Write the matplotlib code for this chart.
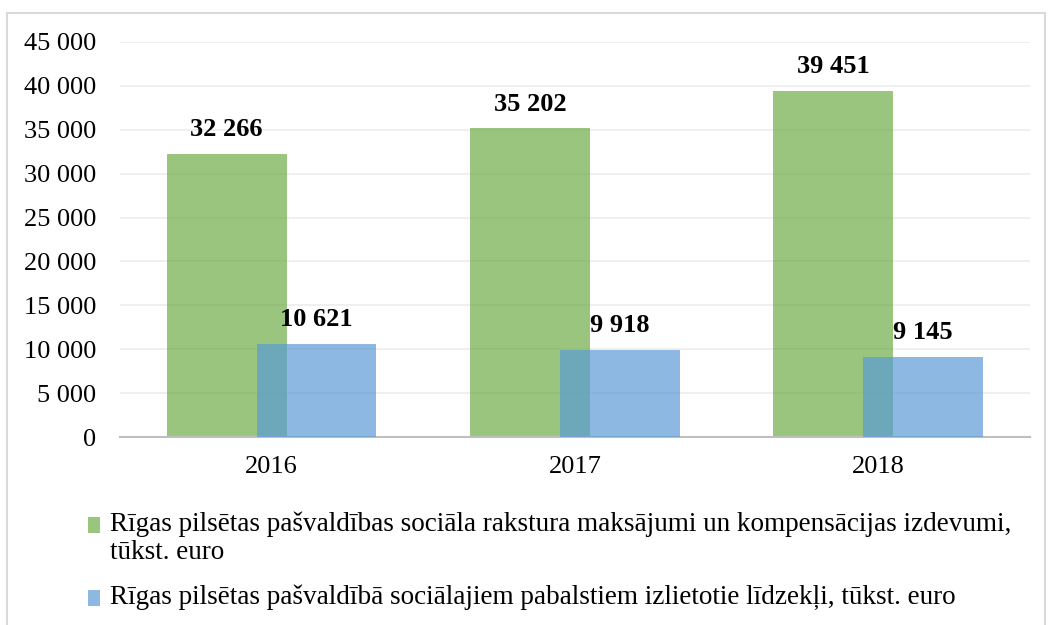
import matplotlib.pyplot as plt
from matplotlib.patches import Rectangle
import numpy as np

plt.rcParams['font.family'] = ['Liberation Serif', 'DejaVu Serif']

years = ['2016', '2017', '2018']
kompensacijas = [32266, 35202, 39451]
pabalsti = [10621, 9918, 9145]
labels = ['Rīgas pilsētas pašvaldības sociāla rakstura maksājumi un kompensācijas izdevumi,\ntūkst. euro',
          'Rīgas pilsētas pašvaldībā sociālajiem pabalstiem izlietotie līdzekļi, tūkst. euro']
colors = ['#70AD47', '#5B9BD5']


def fmt(v):
    return f'{v:,.0f}'.replace(',', ' ')


fig = plt.figure(figsize=(10.52, 6.25), dpi=100)
ax = fig.add_axes([0.114, 0.3008, 0.865, 0.632])

x = np.arange(len(years))
w = 0.395
off = 0.148
b1 = ax.bar(x - off, kompensacijas, w, color=colors[0], alpha=0.7, zorder=2)
b2 = ax.bar(x + off, pabalsti, w, color=colors[1], alpha=0.7, zorder=3)

for bars, vals in ((b1, kompensacijas), (b2, pabalsti)):
    for b, v in zip(bars, vals):
        ax.annotate(fmt(v), (b.get_x() + b.get_width() / 2, v), xytext=(0, 9),
                    textcoords='offset points', ha='center', va='bottom',
                    fontsize=19, fontweight='bold', zorder=4)

ax.set_xlim(-0.5, 2.5)
ax.set_ylim(0, 45000)
ax.set_yticks(range(0, 45001, 5000))
ax.set_yticklabels([fmt(v) for v in range(0, 45001, 5000)], fontsize=19)
ax.set_xticks(x)
ax.set_xticklabels(years, fontsize=19)
ax.tick_params(length=0)
ax.tick_params(axis='x', pad=14)
ax.tick_params(axis='y', pad=17)
ax.grid(axis='y', color='#ececec', linewidth=1.2, zorder=0)
ax.set_axisbelow(True)
for s in ('top', 'right', 'left'):
    ax.spines[s].set_visible(False)
ax.spines['bottom'].set_color('#bfbfbf')
ax.spines['bottom'].set_linewidth(1.5)

# legend drawn by hand so the marker sits on the first text line
leg_y = [0.16, 0.043]
for c, lab, ly in zip(colors, labels, leg_y):
    fig.patches.append(Rectangle((0.0835, ly - 0.0125), 0.0115, 0.025, transform=fig.transFigure,
                                 facecolor=c, alpha=0.7, edgecolor='none'))
    fig.text(0.105, ly + 0.021, lab, fontsize=19.5, va='top', ha='left', linespacing=1.12)

fig.patches.append(Rectangle((0.0066, -0.01), 0.987, 0.99, transform=fig.transFigure,
                             facecolor='none', edgecolor='#d9d9d9', linewidth=1.5))

fig.savefig('out.png', dpi=100)
